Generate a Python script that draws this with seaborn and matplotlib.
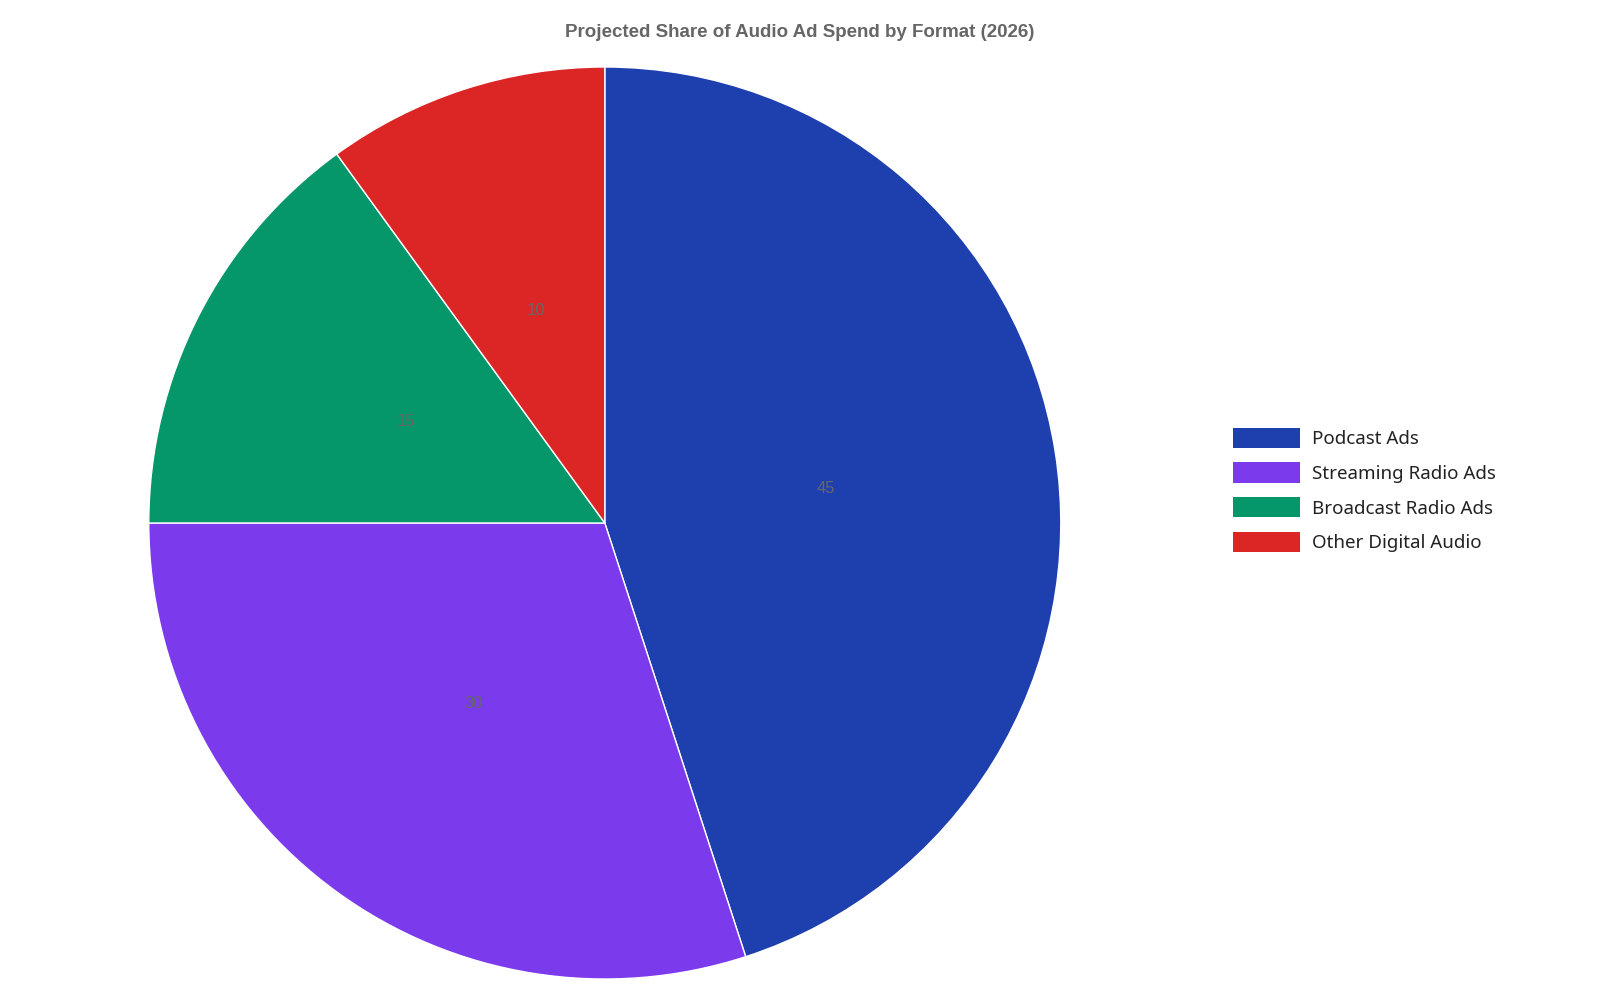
import seaborn as sns
import matplotlib.pyplot as plt
from matplotlib.patches import Patch

formats = ['Podcast Ads', 'Streaming Radio Ads', 'Broadcast Radio Ads', 'Other Digital Audio']
shares = [45, 30, 15, 10]
colors = ['#1e40af', '#7c3aed', '#059669', '#dc2626']

sns.set_theme(style="white")
plt.rcParams['font.family'] = ['Noto Sans', 'DejaVu Sans']

fig = plt.figure(figsize=(16, 10), dpi=100)
ax = fig.add_axes([0.093, 0.021, 0.57, 0.912])

pal = sns.color_palette(colors)
ax.pie(shares, colors=pal, startangle=90, counterclock=False,
       autopct=lambda p: f'{p * sum(shares) / 100:.0f}', pctdistance=0.49,
       textprops=dict(color='#666666', fontsize=12, family=['Liberation Sans', 'DejaVu Sans']),
       radius=1.0)
ax.set_xlim(-1, 1)
ax.set_ylim(-1, 1)
ax.set_aspect('equal')

fig.suptitle('Projected Share of Audio Ad Spend by Format (2026)', y=0.976,
             fontsize=13.5, fontweight='bold', color='#666666',
             family=['Liberation Sans', 'DejaVu Sans'])

handles = [Patch(facecolor=c, edgecolor='none') for c in pal]
fig.legend(handles, formats, loc='center left', bbox_to_anchor=(0.76, 0.51),
           frameon=False, fontsize=13.5, handlelength=3.6, handleheight=1.3,
           labelspacing=0.75, handletextpad=0.6, labelcolor='#222222')

fig.savefig('out.png', dpi=100)
